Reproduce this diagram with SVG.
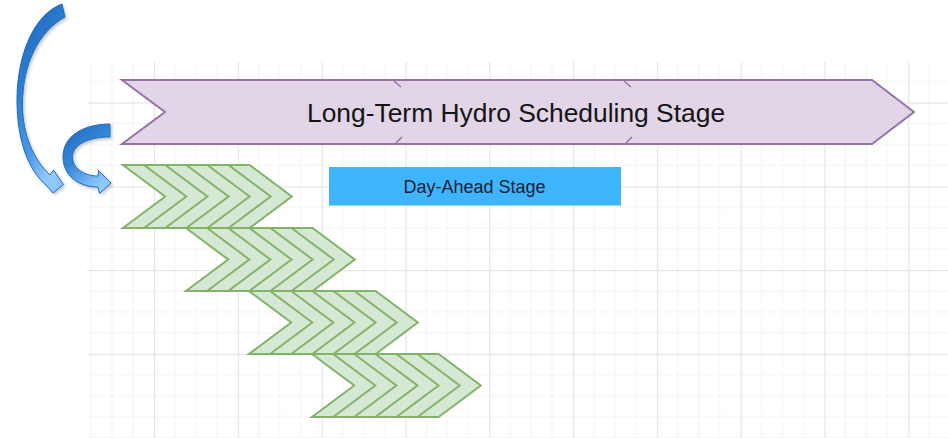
<svg xmlns="http://www.w3.org/2000/svg" xmlns:xlink="http://www.w3.org/1999/xlink" width="948" height="438" viewBox="0 0 948 438">
  <defs>
    <style>
      .minor { stroke: #f3f3f3; stroke-width: 1; fill: none; }
      .major { stroke: #e6e6e6; stroke-width: 1.5; fill: none; }
      .banner { fill: #e1d5e7; stroke: #9673a6; stroke-width: 2; stroke-linejoin: miter; }
      .tick { stroke: #9673a6; stroke-width: 1.5; fill: none; }
      .chev-outer { fill: #d5e8d4; stroke: #82b366; stroke-width: 2; stroke-linejoin: miter; }
      .chev-line { fill: none; stroke: #82b366; stroke-width: 2; stroke-linejoin: miter; }
      .box { fill: #3eb4fd; }
      .title { font-family: "Liberation Sans", Arial, sans-serif; font-size: 26.4px; fill: #141414; }
      .label { font-family: "Liberation Sans", Arial, sans-serif; font-size: 18px; fill: #1b2130; }
      .ribbon { stroke: #1d6cc2; stroke-width: 1; stroke-linejoin: miter; }
    </style>

    <!-- drawing-paper grid: minor cells of ~21px, major every four -->
    <pattern id="grid" patternUnits="userSpaceOnUse" x="154" y="102.4" width="83.8" height="83.8">
      <path class="minor" d="M20.95 0V83.8M41.9 0V83.8M62.85 0V83.8M0 20.95H83.8M0 41.9H83.8M0 62.85H83.8"/>
      <path class="major" d="M0.5 0V83.8M0 0.5H83.8"/>
    </pattern>

    <!-- striped chevron block: outline plus five inner chevron strokes -->
    <g id="chevron-block">
      <path class="chev-outer" d="M0 0H126.6L168.8 31.5L126.6 63H0L42.2 31.5Z"/>
      <path class="chev-line" d="M21.1 0L63.3 31.5L21.1 63M42.2 0L84.4 31.5L42.2 63M63.3 0L105.5 31.5L63.3 63M84.4 0L126.6 31.5L84.4 63M105.5 0L147.7 31.5L105.5 63"/>
    </g>

    <linearGradient id="ribbonBig" x1="0" y1="0" x2="0.35" y2="1">
      <stop offset="0" stop-color="#1d63b5"/>
      <stop offset="0.45" stop-color="#2f7fd3"/>
      <stop offset="0.8" stop-color="#4d9ae6"/>
      <stop offset="1" stop-color="#8fc8ff"/>
    </linearGradient>
    <linearGradient id="ribbonSmall" x1="0" y1="0" x2="0.6" y2="1">
      <stop offset="0" stop-color="#2166bb"/>
      <stop offset="0.5" stop-color="#3586d8"/>
      <stop offset="1" stop-color="#92caff"/>
    </linearGradient>
    <filter id="soft-shadow" x="-30%" y="-10%" width="160%" height="130%">
      <feDropShadow dx="1.5" dy="2" stdDeviation="1.5" flood-color="#000" flood-opacity="0.22"/>
    </filter>
  </defs>

  <rect width="948" height="438" fill="#ffffff"/>

  <!-- background grid -->
  <rect x="87" y="62" width="861" height="376" fill="url(#grid)"/>

  <!-- long-term stage banner -->
  <g id="long-term-stage">
    <path class="banner" d="M122 80H872L914 112L872 144H122L165 112Z"/>
    <path class="tick" d="M394 81L401 87M396 143L402 137M624 81L631 87M626 143L632 137"/>
    <text class="title" x="307" y="121.5">Long-Term Hydro Scheduling Stage</text>
  </g>

  <!-- day-ahead stage label -->
  <g id="day-ahead-stage">
    <rect class="box" x="329" y="167" width="292" height="38.5"/>
    <text class="label" x="474.5" y="193" text-anchor="middle">Day-Ahead Stage</text>
  </g>

  <!-- staircase of day-ahead chevron blocks -->
  <g id="day-ahead-block-1"><use xlink:href="#chevron-block" transform="translate(123 165)"/></g>
  <g id="day-ahead-block-2"><use xlink:href="#chevron-block" transform="translate(186 228)"/></g>
  <g id="day-ahead-block-3"><use xlink:href="#chevron-block" transform="translate(249 291)"/></g>
  <g id="day-ahead-block-4"><use xlink:href="#chevron-block" transform="translate(312 354)"/></g>

  <!-- curved feedback arrows -->
  <g id="connectors" filter="url(#soft-shadow)">
    <path class="ribbon" fill="url(#ribbonBig)" d="M62 4C34 14 17 55 17 100C17 140 28 170 47 186L53 193L63.5 184.5L53.5 170L50 175C34 160 22.5 135 22.5 105C22.5 65 38 32 65 17Z"/>
    <path class="ribbon" fill="url(#ribbonSmall)" d="M110 124C85 124 63 135 63 157C63 175 78 187 98 187L99.5 193.5L111 183L98.5 170.5L98 176C84 176 72.5 168 72.5 157C72.5 145 88 137 110 137Z"/>
  </g>
</svg>
